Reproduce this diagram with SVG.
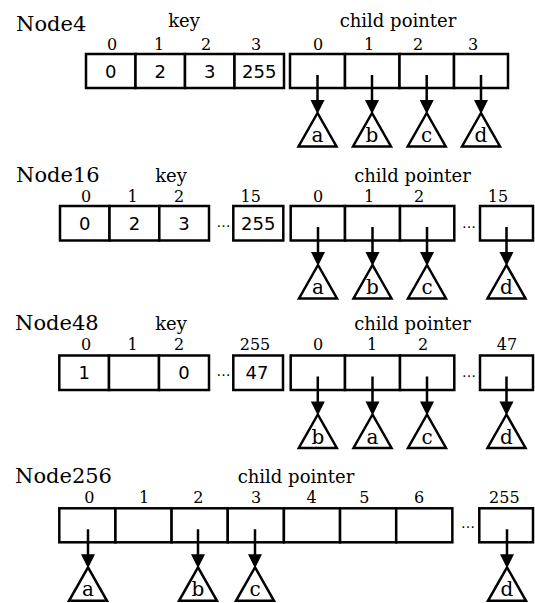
<svg xmlns="http://www.w3.org/2000/svg" width="535" height="603" viewBox="0 0 535 603">
  <defs>
    <style>
      .cell { fill: #fff; stroke: #000; stroke-width: 2.5; }
      .tri { fill: #fff; stroke: #000; stroke-width: 2.5; stroke-linejoin: miter; }
      .wire { stroke: #000; stroke-width: 2.5; fill: none; }
      .head { fill: #000; }
      .title { font-family: "DejaVu Serif", serif; font-size: 21px; fill: #000; }
      .lbl { font-family: "DejaVu Serif", serif; font-size: 18px; fill: #000; text-anchor: middle; }
      .idx { font-family: "DejaVu Serif", serif; font-size: 16px; fill: #000; text-anchor: middle; }
      .leaf { font-family: "DejaVu Serif", serif; font-size: 20px; fill: #000; text-anchor: middle; }
      .val { font-family: "DejaVu Sans", sans-serif; font-size: 18px; fill: #000; text-anchor: middle; }
      .dots { font-family: "DejaVu Sans", sans-serif; font-size: 14px; fill: #000; text-anchor: middle; }
    </style>
  </defs>

  <rect width="535" height="603" fill="#fff"/>

  <!-- Node4 -->
  <g id="node4">
    <text class="title" x="16" y="31">Node4</text>
    <text class="lbl" x="184" y="27">key</text>
    <text class="lbl" x="398" y="27">child pointer</text>
    <g class="keys">
      <rect class="cell" x="86" y="54" width="49.5" height="34"/>
      <rect class="cell" x="135.5" y="54" width="49.5" height="34"/>
      <rect class="cell" x="185" y="54" width="49.5" height="34"/>
      <rect class="cell" x="234.5" y="54" width="49.5" height="34"/>
      <text class="idx" x="112" y="49.5">0</text>
      <text class="idx" x="159" y="49.5">1</text>
      <text class="idx" x="206" y="49.5">2</text>
      <text class="idx" x="256" y="49.5">3</text>
      <text class="val" x="110.8" y="77.5">0</text>
      <text class="val" x="160.2" y="77.5">2</text>
      <text class="val" x="209.7" y="77.5">3</text>
      <text class="val" x="259.2" y="77.5">255</text>
    </g>
    <g class="children">
      <rect class="cell" x="290" y="54" width="55" height="34"/>
      <rect class="cell" x="345" y="54" width="54.5" height="34"/>
      <rect class="cell" x="399.5" y="54" width="54.5" height="34"/>
      <rect class="cell" x="454" y="54" width="54" height="34"/>
      <text class="idx" x="318" y="49.5">0</text>
      <text class="idx" x="369" y="49.5">1</text>
      <text class="idx" x="418" y="49.5">2</text>
      <text class="idx" x="473" y="49.5">3</text>
    </g>
    <g class="leaves">
      <polygon class="tri" points="317.5,113 298.5,146.5 336.5,146.5"/>
      <polygon class="tri" points="372,113 353,146.5 391,146.5"/>
      <polygon class="tri" points="426.7,113 407.7,146.5 445.7,146.5"/>
      <polygon class="tri" points="481,113 462,146.5 500,146.5"/>
      <text class="leaf" x="317.5" y="142">a</text>
      <text class="leaf" x="372" y="142">b</text>
      <text class="leaf" x="426.7" y="142">c</text>
      <text class="leaf" x="481" y="142">d</text>
    </g>
  </g>

  <!-- Node16 -->
  <g id="node16">
    <text class="title" x="16" y="181.5">Node16</text>
    <text class="lbl" x="171" y="181.5">key</text>
    <text class="lbl" x="412.5" y="181.5">child pointer</text>
    <g class="keys">
      <rect class="cell" x="60" y="206" width="49.5" height="34.5"/>
      <rect class="cell" x="109.5" y="206" width="49.8" height="34.5"/>
      <rect class="cell" x="159.3" y="206" width="49.7" height="34.5"/>
      <rect class="cell" x="233.3" y="206" width="50" height="34.5"/>
      <text class="dots" x="223.5" y="226.5">…</text>
      <text class="idx" x="86" y="201.7">0</text>
      <text class="idx" x="132.7" y="201.7">1</text>
      <text class="idx" x="179" y="201.7">2</text>
      <text class="idx" x="250.7" y="201.7">15</text>
      <text class="val" x="84.7" y="229.5">0</text>
      <text class="val" x="134.4" y="229.5">2</text>
      <text class="val" x="184.1" y="229.5">3</text>
      <text class="val" x="258.3" y="229.5">255</text>
    </g>
    <g class="children">
      <rect class="cell" x="290.7" y="206" width="54.3" height="34.5"/>
      <rect class="cell" x="345" y="206" width="55" height="34.5"/>
      <rect class="cell" x="400" y="206" width="54.3" height="34.5"/>
      <rect class="cell" x="480" y="206" width="53" height="34.5"/>
      <text class="dots" x="469" y="227.5">…</text>
      <text class="idx" x="318" y="201.7">0</text>
      <text class="idx" x="369" y="201.7">1</text>
      <text class="idx" x="419" y="201.7">2</text>
      <text class="idx" x="498" y="201.7">15</text>
    </g>
    <g class="leaves">
      <polygon class="tri" points="318,265 299,298.5 337,298.5"/>
      <polygon class="tri" points="372.5,265 353.5,298.5 391.5,298.5"/>
      <polygon class="tri" points="427,265 408,298.5 446,298.5"/>
      <polygon class="tri" points="506.5,265 487.5,298.5 525.5,298.5"/>
      <text class="leaf" x="318" y="294">a</text>
      <text class="leaf" x="372.5" y="294">b</text>
      <text class="leaf" x="427" y="294">c</text>
      <text class="leaf" x="506.5" y="294">d</text>
    </g>
  </g>

  <!-- Node48 -->
  <g id="node48">
    <text class="title" x="15" y="330">Node48</text>
    <text class="lbl" x="171" y="330">key</text>
    <text class="lbl" x="412.5" y="330">child pointer</text>
    <g class="keys">
      <rect class="cell" x="59.3" y="355.5" width="49.7" height="34.5"/>
      <rect class="cell" x="109" y="355.5" width="50" height="34.5"/>
      <rect class="cell" x="159" y="355.5" width="50" height="34.5"/>
      <rect class="cell" x="233.3" y="355.5" width="49.7" height="34.5"/>
      <text class="dots" x="223.5" y="376">…</text>
      <text class="idx" x="86" y="350">0</text>
      <text class="idx" x="132.7" y="350">1</text>
      <text class="idx" x="179" y="350">2</text>
      <text class="idx" x="255" y="350">255</text>
      <text class="val" x="84.2" y="379">1</text>
      <text class="val" x="184" y="379">0</text>
      <text class="val" x="257" y="379">47</text>
    </g>
    <g class="children">
      <rect class="cell" x="290.7" y="355.5" width="54.3" height="34.5"/>
      <rect class="cell" x="345" y="355.5" width="55" height="34.5"/>
      <rect class="cell" x="400" y="355.5" width="54.3" height="34.5"/>
      <rect class="cell" x="480" y="355.5" width="53" height="34.5"/>
      <text class="dots" x="469" y="377">…</text>
      <text class="idx" x="318" y="350">0</text>
      <text class="idx" x="372" y="350">1</text>
      <text class="idx" x="423" y="350">2</text>
      <text class="idx" x="507" y="350">47</text>
    </g>
    <g class="leaves">
      <polygon class="tri" points="317.8,414.5 298.8,448 336.8,448"/>
      <polygon class="tri" points="372.5,414.5 353.5,448 391.5,448"/>
      <polygon class="tri" points="427,414.5 408,448 446,448"/>
      <polygon class="tri" points="506.5,414.5 487.5,448 525.5,448"/>
      <text class="leaf" x="317.8" y="443.5">b</text>
      <text class="leaf" x="372.5" y="443.5">a</text>
      <text class="leaf" x="427" y="443.5">c</text>
      <text class="leaf" x="506.5" y="443.5">d</text>
    </g>
  </g>

  <!-- Node256 -->
  <g id="node256">
    <text class="title" x="15" y="483.3">Node256</text>
    <text class="lbl" x="296" y="483.3">child pointer</text>
    <g class="children">
      <rect class="cell" x="59.3" y="508.3" width="56.15" height="34"/>
      <rect class="cell" x="115.45" y="508.3" width="56.15" height="34"/>
      <rect class="cell" x="171.6" y="508.3" width="56.15" height="34"/>
      <rect class="cell" x="227.75" y="508.3" width="56.15" height="34"/>
      <rect class="cell" x="283.9" y="508.3" width="56.15" height="34"/>
      <rect class="cell" x="340.05" y="508.3" width="56.15" height="34"/>
      <rect class="cell" x="396.2" y="508.3" width="56.15" height="34"/>
      <rect class="cell" x="479.3" y="508.3" width="53.7" height="34"/>
      <text class="dots" x="468" y="528">…</text>
      <text class="idx" x="89.3" y="502.7">0</text>
      <text class="idx" x="144" y="502.7">1</text>
      <text class="idx" x="198.3" y="502.7">2</text>
      <text class="idx" x="256" y="502.7">3</text>
      <text class="idx" x="311.7" y="502.7">4</text>
      <text class="idx" x="364.3" y="502.7">5</text>
      <text class="idx" x="419" y="502.7">6</text>
      <text class="idx" x="504.3" y="502.7">255</text>
    </g>
    <g class="leaves">
      <polygon class="tri" points="88,567.3 69,600.8 107,600.8"/>
      <polygon class="tri" points="198,567.3 179,600.8 217,600.8"/>
      <polygon class="tri" points="255,567.3 236,600.8 274,600.8"/>
      <polygon class="tri" points="507,567.3 488,600.8 526,600.8"/>
      <text class="leaf" x="88" y="596.3">a</text>
      <text class="leaf" x="198" y="596.3">b</text>
      <text class="leaf" x="255" y="596.3">c</text>
      <text class="leaf" x="507" y="596.3">d</text>
    </g>
  </g>

  <!-- Pointer arrows: cell centre down to the apex of each subtree -->
  <g id="connectors">
    <path class="wire" d="M317.5,75V101 M372,75V101 M426.7,75V101 M481,75V101"/>
    <path class="head" d="M310.5,100h14l-7,14z M365,100h14l-7,14z M419.7,100h14l-7,14z M474,100h14l-7,14z"/>

    <path class="wire" d="M318,227V253 M372.5,227V253 M427,227V253 M506.5,227V253"/>
    <path class="head" d="M311,252h14l-7,14z M365.5,252h14l-7,14z M420,252h14l-7,14z M499.5,252h14l-7,14z"/>

    <path class="wire" d="M317.8,376.5V402.5 M372.5,376.5V402.5 M427,376.5V402.5 M506.5,376.5V402.5"/>
    <path class="head" d="M310.8,401.5h14l-7,14z M365.5,401.5h14l-7,14z M420,401.5h14l-7,14z M499.5,401.5h14l-7,14z"/>

    <path class="wire" d="M88,529.3V555.3 M198,529.3V555.3 M255,529.3V555.3 M507,529.3V555.3"/>
    <path class="head" d="M81,554.3h14l-7,14z M191,554.3h14l-7,14z M248,554.3h14l-7,14z M500,554.3h14l-7,14z"/>
  </g>
</svg>
